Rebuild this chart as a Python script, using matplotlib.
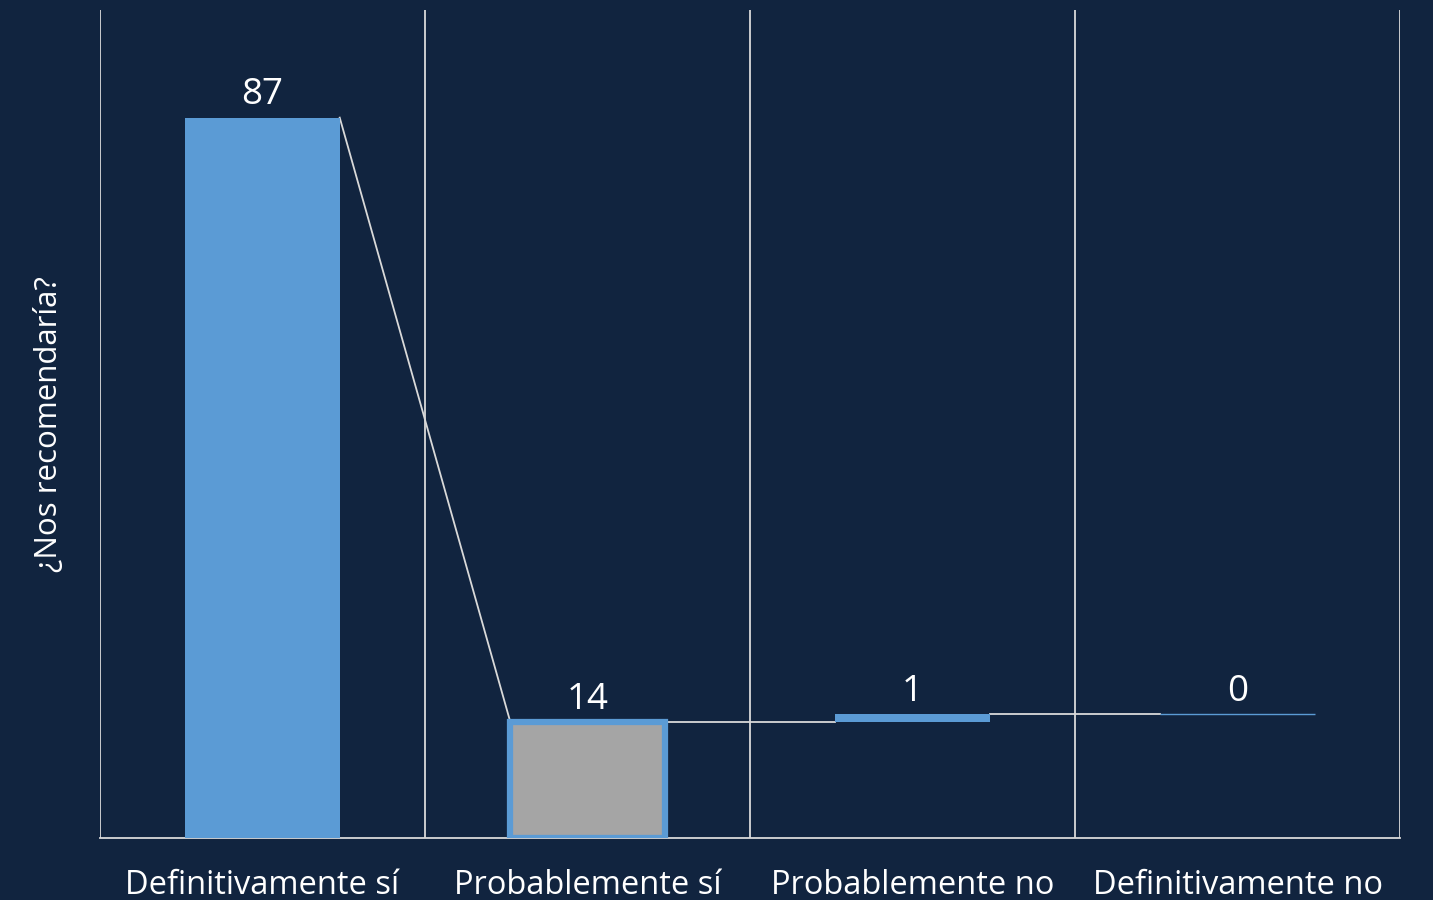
import numpy as np
import matplotlib.pyplot as plt

# data
categories = ["Definitivamente sí", "Probablemente sí", "Probablemente no", "Definitivamente no"]
values = [87, 14, 1, 0]
bottoms = [0, 0, 14, 15]

bg = "#11243f"
blue = "#5b9bd5"
grey = "#a5a5a5"
linec = "#d9d9d9"

plt.rcParams['font.family'] = ['Open Sans', 'DejaVu Sans']

fig = plt.figure(figsize=(14.33, 9), dpi=100, facecolor=bg)
ax = fig.add_axes([0.0698, 0.0689, 0.9072, 0.92])
ax.set_facecolor(bg)

x = np.arange(len(categories))
width = 0.475

for i, (v, b) in enumerate(zip(values, bottoms)):
    if i == 1:
        ax.bar(x[i], v, width, bottom=b, color=grey, edgecolor=blue, linewidth=4.5, zorder=3)
    elif v == 0:
        ax.bar(x[i], v, width, bottom=b, color=blue, edgecolor=blue, linewidth=1, zorder=3)
    else:
        ax.bar(x[i], v, width, bottom=b, color=blue, linewidth=0, zorder=3)
    ax.text(x[i], b + v + 0.5, str(v), ha="center", va="bottom", color="white", fontsize=26.5)

# connector lines
for i in range(len(values) - 1):
    start = bottoms[i] + values[i]
    end = bottoms[i + 1] if bottoms[i + 1] > 0 else bottoms[i + 1] + values[i + 1]
    ax.plot([x[i] + width / 2, x[i + 1] - width / 2], [start, end], color=linec, lw=1.3, zorder=2)

ax.set_xlim(-0.5, len(categories) - 0.5)
ax.set_ylim(0, 100)
ax.set_xticks(x)
ax.set_xticklabels(categories, color="white", fontsize=23.5)
ax.set_xticks(np.arange(-0.5, len(categories)), minor=True)
ax.tick_params(axis="x", which="both", length=0, pad=22)
ax.set_yticks([])
ax.grid(axis="x", which="minor", color=linec, lw=1.3, zorder=1)

for s in ["top", "left", "right"]:
    ax.spines[s].set_visible(False)
ax.spines["bottom"].set_color(linec)
ax.spines["bottom"].set_linewidth(1.3)

ax.set_ylabel("¿Nos recomendaría?", color="white", fontsize=22.5, labelpad=26)

fig.savefig("out.png", facecolor=bg)
